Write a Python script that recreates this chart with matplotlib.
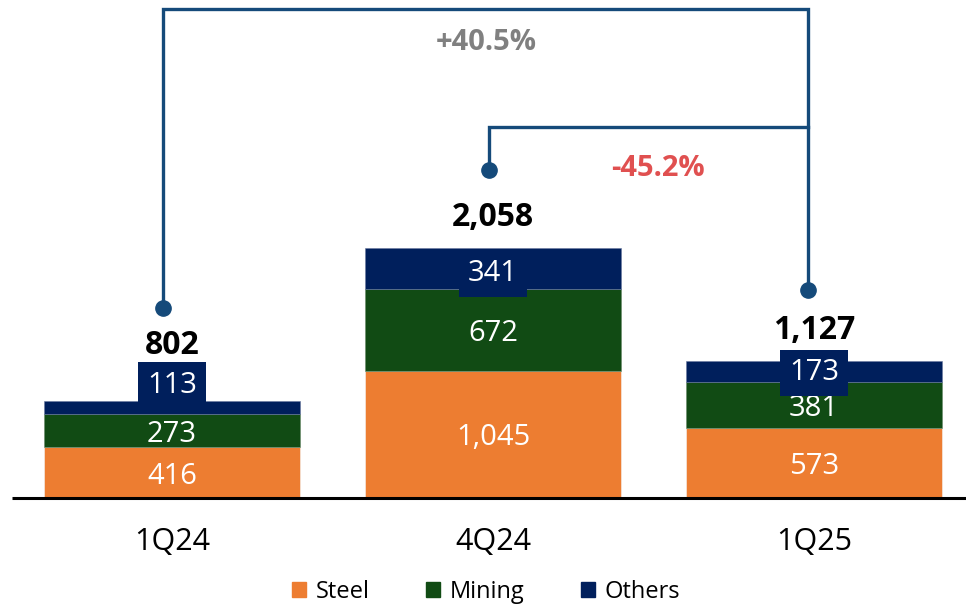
import matplotlib
matplotlib.use("Agg")
import matplotlib.pyplot as plt
from matplotlib.patches import Patch

plt.rcParams['font.family'] = ['Open Sans', 'DejaVu Sans']

categories = ["1Q24", "4Q24", "1Q25"]
steel = [416, 1045, 573]
mining = [273, 672, 381]
others = [113, 341, 173]
totals = [802, 2058, 1127]
series_names = ["Steel", "Mining", "Others"]
changes = ["+40.5%", "-45.2%"]

c_steel = "#ED7D31"
c_mining = "#114B14"
c_others = "#001F5C"
c_bracket = "#154A7A"

W, H = 966, 606
fig = plt.figure(figsize=(W / 100, H / 100), dpi=100)
base_px = 498
scale = 0.12148  # px per unit
ax = fig.add_axes([0, (H - base_px) / H, 1, base_px / H])
ax.set_xlim(-172 / 321, (966 - 172) / 321)
ax.set_ylim(0, base_px / scale)
ax.axis("off")

x = list(range(len(categories)))
bw = 0.8
ax.bar(x, steel, bw, color=c_steel, edgecolor="#f4f4f4", linewidth=0.4)
ax.bar(x, mining, bw, bottom=steel, color=c_mining, edgecolor="#6a8a6a", linewidth=0.4)
bottom3 = [s + m for s, m in zip(steel, mining)]
ax.bar(x, others, bw, bottom=bottom3, color=c_others, edgecolor="#6a7aa0", linewidth=0.4)

# baseline
ax.plot([-160 / 321, (966 - 172) / 321], [0, 0], color="black", lw=2.2, clip_on=False,
        solid_capstyle="butt")

fs_seg = 21
dy = -2.5
for i in x:
    ax.annotate(f"{steel[i]:,}", (i, steel[i] / 2), xytext=(0, dy), textcoords="offset points",
                ha="center", va="center", color="white", fontsize=fs_seg)
    ax.annotate(f"{mining[i]:,}", (i, steel[i] + mining[i] / 2), xytext=(0, dy), textcoords="offset points",
                ha="center", va="center", color="white", fontsize=fs_seg)
others_offsets = [16, -3.5, -1]
total_offsets = [40, 22, 22]
for i in x:
    ax.annotate(f"{others[i]:,}", (i, bottom3[i] + others[i] / 2), xytext=(0, others_offsets[i]),
                textcoords="offset points", ha="center", va="center", color="white", fontsize=fs_seg,
                bbox=dict(boxstyle="square,pad=0.3", fc=c_others, ec="none"))
    ax.annotate(f"{totals[i]:,}", (i, totals[i]), xytext=(0, total_offsets[i]),
                textcoords="offset points", ha="center", va="center", color="black",
                fontsize=23, fontweight="bold")

# category labels
for i, c in enumerate(categories):
    ax.annotate(c, (i, 0), xytext=(0, -32), textcoords="offset points", ha="center", va="center",
                fontsize=22, color="black", annotation_clip=False)

# brackets
def ypx(p):
    return (base_px - p) / scale

def xpx(p):
    return (p - 172) / 321

lw = 2.4
ax.plot([xpx(163), xpx(163), xpx(808), xpx(808)], [ypx(308), ypx(9), ypx(9), ypx(290)],
        color=c_bracket, lw=lw, clip_on=False, solid_joinstyle="miter")
ax.plot([xpx(489), xpx(489), xpx(808)], [ypx(170), ypx(127), ypx(127)],
        color=c_bracket, lw=lw, clip_on=False, solid_joinstyle="miter")
ax.plot([xpx(163), xpx(489), xpx(808)], [ypx(308), ypx(170), ypx(290)], "o",
        color=c_bracket, ms=11, clip_on=False)
ax.text(xpx(486), ypx(43), changes[0], ha="center", va="center", color="#808080",
        fontsize=21, fontweight="bold")
ax.text(xpx(658), ypx(168), changes[1], ha="center", va="center", color="#E05050",
        fontsize=21, fontweight="bold")

handles = [Patch(color=c) for c in (c_steel, c_mining, c_others)]
fig.legend(handles, series_names, loc="center", bbox_to_anchor=(486 / W, 1 - 592 / H), ncol=3,
           frameon=False, fontsize=17, handlelength=0.6, handleheight=0.6, handletextpad=0.4,
           columnspacing=2.4, borderpad=0)

fig.savefig("out.png", dpi=100)
